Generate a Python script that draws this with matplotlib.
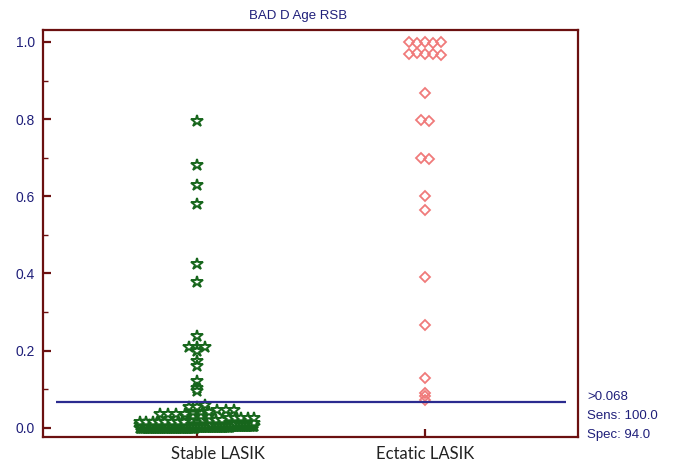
import numpy as np
import matplotlib
matplotlib.use("Agg")
import matplotlib.pyplot as plt
from matplotlib.transforms import ScaledTranslation

# groups on the x axis
groups = ["Stable LASIK", "Ectatic LASIK"]

# Stable LASIK: isolated points above the cut-off
stable_high = [0.795, 0.680, 0.628, 0.580, 0.425, 0.378,
               0.238, 0.208, 0.208, 0.208, 0.198, 0.172, 0.159,
               0.120, 0.103, 0.094]
# Stable LASIK: dense cluster near zero, as (value, count)
stable_low_values = [0.000, 0.002, 0.004, 0.006, 0.008, 0.010, 0.013, 0.016,
                     0.020, 0.025, 0.030, 0.035, 0.040, 0.045, 0.050, 0.055, 0.060]
stable_low_counts = [80, 50, 35, 28, 22, 16, 12, 8,
                     6, 5, 4, 4, 3, 3, 2, 2, 1]

# Ectatic LASIK values
ectatic = [1.000, 0.998, 1.000, 0.997, 1.000,
           0.970, 0.972, 0.968, 0.970, 0.966,
           0.868, 0.797, 0.795, 0.700, 0.697, 0.601, 0.565,
           0.392, 0.267, 0.129, 0.091, 0.081, 0.073]

cutoff = 0.068
cut_text = [">0.068", "Sens: 100.0", "Spec: 94.0"]

stable = list(stable_high)
for v, c in zip(stable_low_values, stable_low_counts):
    stable += [v] * c


def dot_offsets(vals, binh=0.01, step=0.036, maxhalf=0.25):
    # MedCalc-like dot plot: points in the same row are spread sideways
    vals = np.asarray(vals)
    bins = np.round(vals / binh).astype(int)
    off = np.zeros(len(vals))
    for b in np.unique(bins):
        idx = np.where(bins == b)[0]
        n = len(idx)
        s = step
        if n > 1:
            s = min(step, 2 * maxhalf / (n - 1))
        off[idx] = (np.arange(n) - (n - 1) / 2) * s
    return off


navy = "#1f1f7a"
maroon = "#6b1010"

fig = plt.figure(figsize=(6.83, 4.73), dpi=100)
ax = fig.add_axes([43 / 683, 1 - 437 / 473, 535 / 683, 407 / 473])

xs = 0 + dot_offsets(stable)
ax.plot(xs, stable, linestyle="none", marker="*", markersize=9,
        markerfacecolor="white", markeredgecolor="#17661c", markeredgewidth=1.4)
xe = 1 + dot_offsets(ectatic)
ax.plot(xe, ectatic, linestyle="none", marker="D", markersize=5.5,
        markerfacecolor="none", markeredgecolor="#f07a7a", markeredgewidth=1.3)

ax.hlines(cutoff, -0.62, 1.62, color="#2b2b8f", linewidth=1.6)

ax.set_xlim(-0.675, 1.671)
ax.set_ylim(-0.024, 1.031)

ax.set_yticks([0.0, 0.2, 0.4, 0.6, 0.8, 1.0])
ax.set_yticks([0.1, 0.3, 0.5, 0.7, 0.9], minor=True)
ax.set_yticklabels(["0.0", "0.2", "0.4", "0.6", "0.8", "1.0"],
                   fontfamily="Liberation Sans", fontsize=10, color=navy)
ax.set_xticks([0, 1])
ax.set_xticklabels(["", ""])

# group labels; the first one sits a little to the right of its tick
shifts = [0.21, 0.0]
for i, g in enumerate(groups):
    tr = ax.get_xaxis_transform() + ScaledTranslation(shifts[i], -0.09, fig.dpi_scale_trans)
    ax.text(i, 0, g, transform=tr, ha="center", va="top",
            fontfamily="Lato", fontsize=12, color="#222222")

ax.tick_params(axis="y", which="major", direction="in", length=6, width=1.6,
               color=maroon, pad=6)
ax.tick_params(axis="y", which="minor", direction="in", length=3.5, width=1.0,
               color=maroon)
ax.tick_params(axis="x", which="major", direction="in", length=6, width=1.6,
               color=maroon)

for sp in ax.spines.values():
    sp.set_color(maroon)
    sp.set_linewidth(1.6)

ax.set_title("BAD D Age RSB", fontfamily="Liberation Sans", fontsize=9.5,
             color=navy, pad=8, x=0.477)

for i, t in enumerate(cut_text):
    fig.text(587 / 683, 1 - (397 + 19 * i) / 473, t, fontfamily="Liberation Sans",
             fontsize=9.5, color=navy, va="center", ha="left")

fig.savefig("out.png", dpi=100)
